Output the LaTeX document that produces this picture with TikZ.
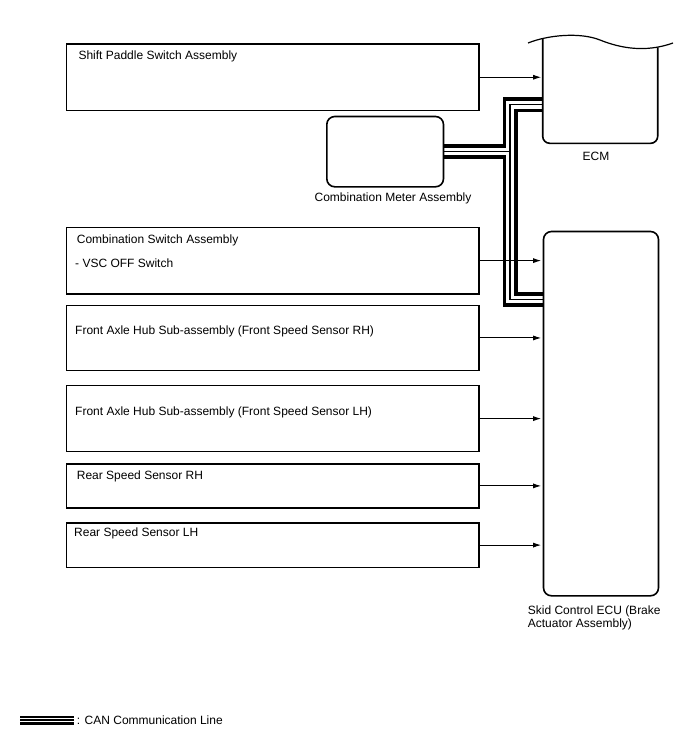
\documentclass[tikz,border=0pt]{standalone}
\usepackage{fontspec}
\setmainfont{Liberation Sans}
\usetikzlibrary{arrows.meta,backgrounds}
\begin{document}
\begin{tikzpicture}[x=1pt,y=-1pt,
  box/.style={draw, line width=1.2pt, inner sep=0, anchor=north west},
  rbox/.style={draw, line width=1.6pt, rounded corners=8pt, inner sep=0, anchor=north west},
  lbl/.style={anchor=base west, inner sep=0, font=\fontsize{12}{14}\selectfont},
  clbl/.style={anchor=base, inner sep=0, font=\fontsize{12}{14}\selectfont},
  sig/.style={line width=1pt, -{Latex[length=8pt,width=5pt]}, shorten >=1.5pt},
  canA/.style={line width=15pt, black, line join=miter},
  canB/.style={line width=7.6pt, white, line join=miter},
  canC/.style={line width=1.5pt, black, line join=miter}]
\useasboundingbox (0,0) rectangle (688,755);

% left boxes
\node[box, minimum width=412.8pt, minimum height=66.7pt] (sp) at (65.5,43.3) {};
\node[box, minimum width=412.8pt, minimum height=66.6pt] (cs) at (65.5,226.7) {};
\node[box, minimum width=412.8pt, minimum height=65.3pt] (fr) at (65.5,304.7) {};
\node[box, minimum width=412.8pt, minimum height=66pt] (fl) at (65.5,385) {};
\node[box, minimum width=412.8pt, minimum height=44pt] (rr) at (65.5,463.3) {};
\node[box, minimum width=412.8pt, minimum height=44.4pt] (rl) at (65.5,522.3) {};

\node[lbl] (tsp) at (78.3,59.3) {Shift Paddle Switch Assembly};
\node[lbl] (tcs) at (76.7,243.3) {Combination Switch Assembly};
\node[lbl] (tvsc) at (75,267.7) {- VSC OFF Switch};
\node[lbl] (tfr) at (75,334) {Front Axle Hub Sub-assembly (Front Speed Sensor RH)};
\node[lbl] (tfl) at (75,415.3) {Front Axle Hub Sub-assembly (Front Speed Sensor LH)};
\node[lbl] (trr) at (76.7,479.3) {Rear Speed Sensor RH};
\node[lbl] (trl) at (74,536.7) {Rear Speed Sensor LH};

% combination meter
\node[rbox, minimum width=116.7pt, minimum height=70.3pt] (meter) at (326,115.7) {};
\node[clbl] (tmeter) at (393,201) {Combination Meter Assembly};

% skid control ECU
\node[rbox, minimum width=115pt, minimum height=364.3pt] (ecu) at (542.7,230.7) {};
\node[lbl] (tecu1) at (527.7,614.3) {Skid Control ECU (Brake};
\node[lbl] (tecu2) at (527.7,627.7) {Actuator Assembly)};

% ECM (cut-off top)
\coordinate (ecmS) at (542.7,77.7);
\coordinate (ecmA) at (542.7,104.7);
\draw[line width=1.2pt] (528,43) .. controls (548,35) and (580,32) .. (600,40)
   .. controls (620,48) and (645,53) .. (673,43);
\draw[line width=1.6pt, rounded corners=7pt] (542.7,38.8) |- (657.7,143.3) -- (657.7,47.3);
\node[clbl] (tecm) at (596,160) {ECM};

% CAN lines
\coordinate (cTop) at (510,104.7);
\coordinate (cBot) at (510,299.5);
\coordinate (ecuC) at (542.7,299.5);
\coordinate (lg1) at (20,720);
\coordinate (lg2) at (74,720);
\begin{scope}[on background layer]
  \foreach \st in {canA,canB,canC}{
    \draw[\st] (ecmA) -- (cTop) -- (cBot) -- (ecuC);
    \draw[\st] (meter.east) -- (meter.east -| cTop);
  }
  \draw[line width=9pt] (lg1) -- (lg2);
  \draw[line width=4.4pt, white] (lg1) -- (lg2);
  \draw[line width=1.3pt] (lg1) -- (lg2);
\end{scope}
\node[lbl] (tlg) at (76.7,724.5) {: CAN Communication Line};

% signal arrows
\draw[sig] (sp.east) -- (sp.east -| ecmS);
\draw[sig] (cs.east) -- (cs.east -| ecu.west);
\draw[sig] (fr.east) -- (fr.east -| ecu.west);
\draw[sig] (fl.east) -- (fl.east -| ecu.west);
\draw[sig] (rr.east) -- (rr.east -| ecu.west);
\draw[sig] (rl.east) -- (rl.east -| ecu.west);
\end{tikzpicture}
\end{document}
